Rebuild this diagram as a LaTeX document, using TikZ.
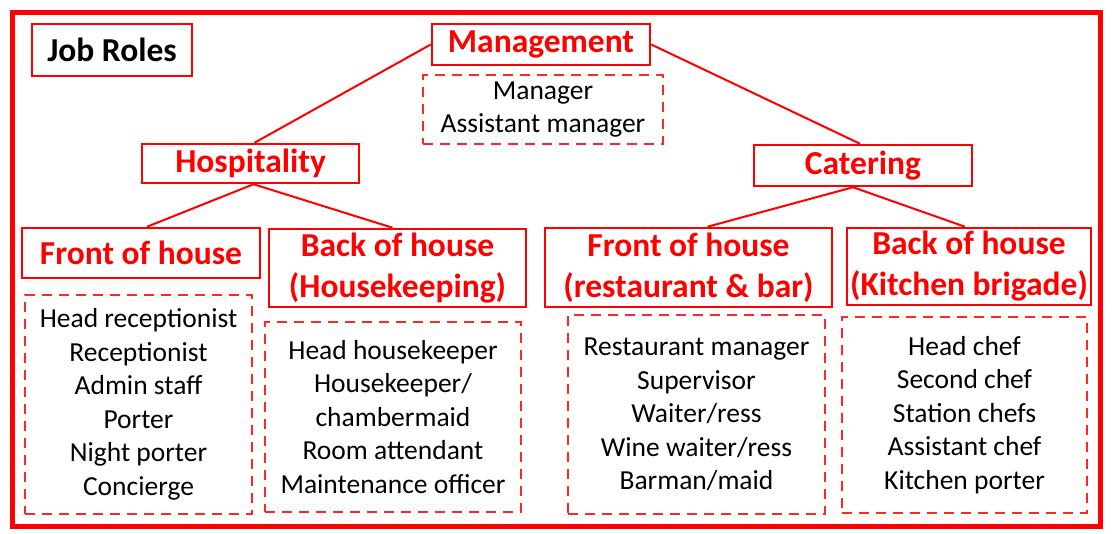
\documentclass[tikz,border=0pt]{standalone}
\usepackage{fontspec}
\setmainfont{Carlito}
\newcommand\hdfont{\fontsize{33.5}{41}\selectfont\bfseries}
\newcommand\lsfont{\fontsize{27.5}{33.5}\selectfont}
\begin{document}
\begin{tikzpicture}[x=1pt,y=-1pt,
  solidbox/.style={draw=red, line width=2.5pt, inner sep=0pt, align=center, text=red, font=\hdfont},
  listbox/.style={draw=red!85, dash pattern=on 10pt off 7pt, line width=2.7pt, inner sep=0pt, align=center, font=\lsfont},
  link/.style={draw=red, line width=2pt}]
\useasboundingbox (0,0) rectangle (1113,533);
\draw[red, line width=5pt] (12,12) rectangle (1100,526);

\node[solidbox, text=black, minimum width=160pt, minimum height=52pt] (jr) at (112,50) {Job Roles};
\node[solidbox, minimum width=218pt, minimum height=41pt] (mgmt) at (541,44.5) {Management};
\node[listbox, minimum width=240pt, minimum height=69pt] (mlist) at (543,109.5) {Manager\\Assistant manager};
\node[solidbox, minimum width=217pt, minimum height=39pt] (hosp) at (250.5,163.5) {Hospitality};
\node[solidbox, minimum width=218pt, minimum height=41pt] (cat) at (863,165.5) {Catering};

\node[solidbox, minimum width=238pt, minimum height=50pt] (foh) at (141,253) {Front of house};
\node[solidbox, minimum width=257pt, minimum height=78pt] (boh) at (397.5,268) {Back of house\\(Housekeeping)};
\node[solidbox, minimum width=287pt, minimum height=79pt] (rest) at (688.5,267.5) {Front of house\\(restaurant \& bar)};
\node[solidbox, minimum width=244pt, minimum height=77pt] (kit) at (969,266.5) {Back of house\\(Kitchen brigade)};

\node[listbox, minimum width=227pt, minimum height=219pt] (fohl) at (138.5,404.5)
  {Head receptionist\\Receptionist\\Admin staff\\Porter\\Night porter\\Concierge};
\node[listbox, minimum width=256pt, minimum height=190pt] (bohl) at (393,417)
  {Head housekeeper\\Housekeeper/\\chambermaid\\Room attendant\\Maintenance officer};
\node[listbox, minimum width=257pt, minimum height=199pt] (restl) at (696.5,414.5)
  {Restaurant manager\\Supervisor\\Waiter/ress\\Wine waiter/ress\\Barman/maid};
\node[listbox, minimum width=245pt, minimum height=196pt] (kitl) at (964.5,415)
  {Head chef\\Second chef\\Station chefs\\Assistant chef\\Kitchen porter};

\draw[link] (mgmt.west) -- ([xshift=4pt]hosp.north);
\draw[link] (mgmt.east) -- ([xshift=-3pt]cat.north);
\draw[link] ([xshift=3pt]hosp.south) -- ([xshift=6pt]foh.north);
\draw[link] ([xshift=3pt]hosp.south) -- ([xshift=-5pt]boh.north);
\draw[link] ([xshift=-10pt]cat.south) -- ([xshift=19pt]rest.north);
\draw[link] ([xshift=-10pt]cat.south) -- ([xshift=-4pt]kit.north);
\end{tikzpicture}
\end{document}
